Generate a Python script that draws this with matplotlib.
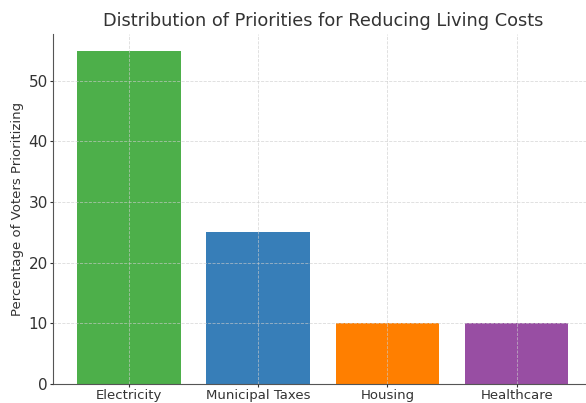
import matplotlib.pyplot as plt

# 数据
categories = ['Electricity', 'Municipal Taxes', 'Housing', 'Healthcare']
percentages = [55, 25, 10, 10]
colors = ['#4daf4a', '#377eb8', '#ff7f00', '#984ea3']

fig = plt.figure(figsize=(5.86, 4.03), dpi=100)
ax = fig.add_axes([0.0899, 0.048, 0.922, 0.868])

ax.bar(categories, percentages, color=colors, width=0.8)

# 网格画在柱子上面，虚线
ax.set_axisbelow(False)
ax.grid(True, linestyle='--', linewidth=0.6, color='#cccccc', alpha=0.7)

ax.spines['top'].set_visible(False)
ax.spines['right'].set_visible(False)
ax.spines['left'].set_color('#555555')
ax.spines['bottom'].set_color('#555555')

ax.set_title('Distribution of Priorities for Reducing Living Costs', fontsize=12.75, color='#333333')
ax.set_ylabel('Percentage of Voters Prioritizing', fontsize=9.5, color='#333333', labelpad=3)
ax.tick_params(axis='both', colors='#333333', length=2, pad=1.5)
ax.tick_params(axis='y', labelsize=11)
ax.tick_params(axis='x', labelsize=9.5)

fig.savefig('out.png', dpi=100)
